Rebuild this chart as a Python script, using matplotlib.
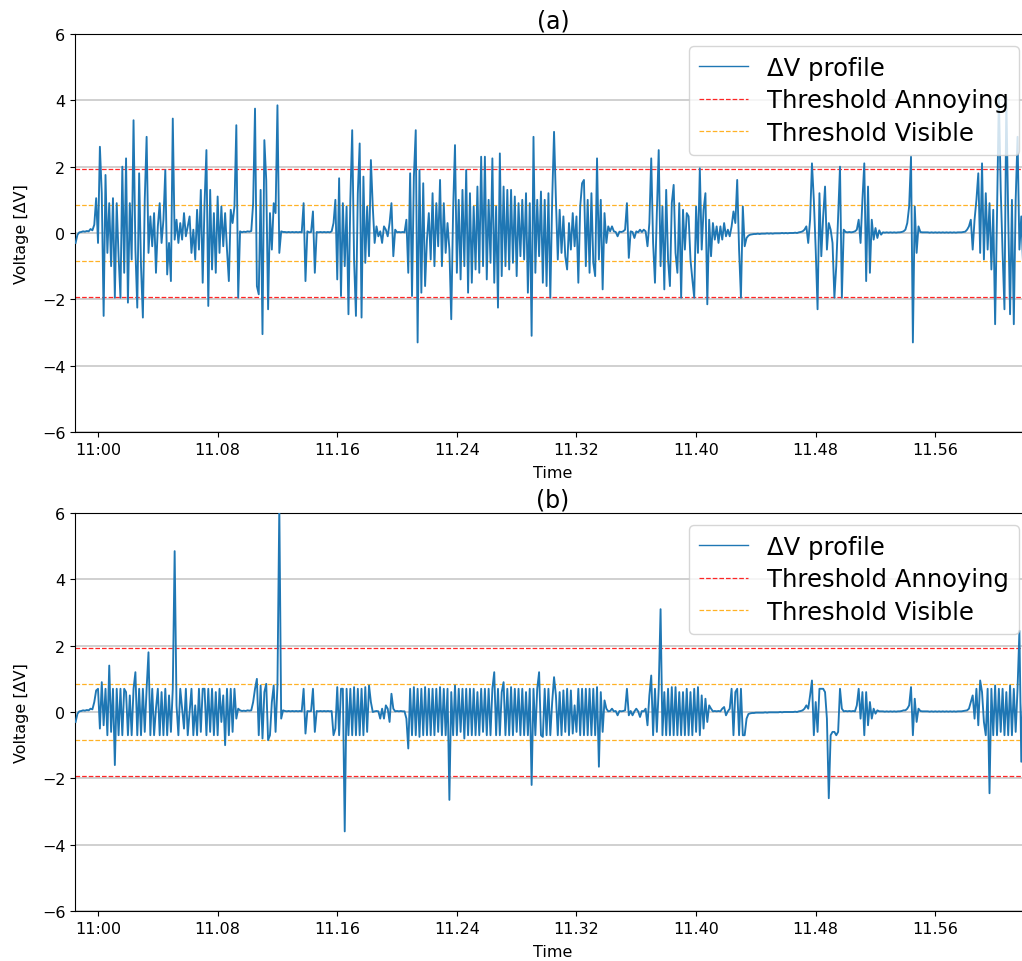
import numpy as np
import matplotlib
matplotlib.use("Agg")
import matplotlib.pyplot as plt

# time axis: minutes after 11:00, one sample every 7.5 s
t_start = -1.5
t_step = 0.125

tick_pos = [0, 8, 16, 24, 32, 40, 48, 56]
tick_labels = ["11:00", "11.08", "11.16", "11.24", "11.32", "11.40", "11.48", "11.56"]

thr_annoying = 1.94
thr_visible = 0.83

# panel (a) ΔV profile (8 samples per row = one minute)
dv_a = [
    -0.3, -0.05, 0.02, 0.03, 0.05, 0.04, 0.06, 0.05,
    0.12, 0.08, 0.25, 1.05, -0.3, 2.6, 1.2, -2.5,
    1.75, -0.6, 0.9, -1.0, 1.05, -1.95, 0.9, -0.7,
    -1.95, 2.0, -1.2, 2.25, -2.1, 0.9, -0.8, 3.4,
    -0.5, -2.25, 1.8, -1.0, -2.55, 1.0, 2.9, -0.6,
    0.5, -0.4, 0.6, -1.2, 0.2, 0.9, -0.3, 0.4,
    1.9, -1.25, -0.3, -1.45, 3.45, -0.2, 0.4, -0.3,
    0.3, -0.2, 0.6, -0.1, 0.2, 0.5, -0.6, 0.1,
    -0.8, 0.7, -0.5, 1.3, -1.5, 0.9, 2.5, -2.2,
    1.3, -1.1, 0.6, -1.2, 1.1, -0.6, 0.8, -0.4,
    0.6, -0.5, -1.45, 0.7, 0.3, 0.8, 3.25, -1.95,
    0.05, 0.02, 0.04, 0.03, 0.05, 0.04, 0.06, 0.9,
    3.75, -1.6, -1.85, 1.3, -3.05, 2.8, 1.6, -2.3,
    0.6, -0.5, 0.9, 0.6, 3.85, -0.6, 0.05, 0.03,
    0.03, 0.02, 0.03, 0.02, 0.03, 0.02, 0.03, 0.02,
    0.03, 0.02, 0.9, -1.45, 0.05, 0.02, 0.03, 0.65,
    -1.2, 0.03, 0.02, 0.03, 0.02, 0.03, 0.02, 0.03,
    0.02, 0.05, 0.3, 1.0, -1.4, 1.65, -1.9, 0.9,
    -1.0, 0.8, -2.45, 1.0, 3.1, -0.8, -2.5, 1.2,
    2.7, -2.55, 1.7, -0.9, 0.8, -0.7, 2.2, 0.8,
    -0.3, 0.2, -0.1, 0.05, -0.3, 0.2, 0.1, -0.1,
    0.3, 0.9, -0.7, 0.1, 0.02, 0.03, 0.02, 0.03,
    0.02, 0.4, -1.2, 1.8, -1.9, 1.7, 3.1, -3.3,
    1.9, -1.8, 1.5, -1.6, -0.2, 0.6, -0.8, 1.2,
    -1.0, 0.9, -0.4, 1.6, -1.0, 0.9, -0.6, 0.3,
    -0.5, -2.6, 0.7, 2.65, -1.2, 1.0, -1.4, 1.3,
    -1.0, 1.9, -1.8, 1.2, -1.5, 0.8, -1.1, 1.4,
    -1.2, 2.3, -1.0, 2.3, -1.4, 1.0, -0.9, 2.25,
    -1.5, 0.8, -2.25, 2.4, -1.3, 1.4, -1.0, 1.3,
    -1.1, 1.3, -0.9, 1.1, -1.3, 0.9, -0.7, 1.0,
    -0.8, 1.2, -1.8, 0.9, -3.1, 2.9, -1.2, 1.0,
    -0.7, 1.25, -1.5, 1.0, -1.6, 1.2, -1.95, 1.0,
    3.05, 1.0, -0.8, 0.7, -0.6, 0.5, -0.7, -1.1,
    0.3, -0.5, 0.6, -0.4, 0.5, -1.5, 0.8, 1.5,
    1.6, -1.0, 1.0, -1.2, 1.2, -0.9, -1.3, 2.25,
    -0.8, 1.0, -1.7, 0.6, -0.3, 0.2, 0.05, 0.2,
    0.05, 0.03, -0.1, 0.04, 0.03, 0.05, 0.1, 0.9,
    -0.75, 0.05, 0.03, -0.15, 0.05, 0.02, 0.1, 0.03,
    0.1, 0.05, -0.4, 0.3, 2.25, -0.3, -1.5, 0.6,
    2.5, -1.0, 0.8, -1.7, 1.3, -0.8, -1.6, 0.9,
    1.45, -0.6, -1.2, 0.9, -1.95, 0.7, -0.5, 0.6,
    0.5, -0.8, -1.4, -1.95, 0.8, -0.6, 1.95, -0.5,
    0.7, 1.2, -2.15, 0.4, -0.7, 0.3, -0.2, 0.2,
    -0.3, 0.2, -0.2, 0.3, -0.1, 0.1, -0.1, 0.2,
    0.65, 0.3, 1.6, -0.5, -1.95, 0.8, -0.4, -0.15,
    -0.08, -0.05, -0.04, -0.03, -0.03, -0.02, -0.03, -0.02,
    -0.02, -0.02, -0.01, -0.02, -0.01, -0.02, -0.01, -0.01,
    -0.01, -0.01, 0.0, -0.01, 0.0, -0.01, 0.0, 0.0,
    0.0, 0.01, 0.0, 0.02, 0.03, 0.05, 0.1, 0.2,
    -0.3, 0.4, 2.1, 1.0, -0.5, -2.3, 1.2, -0.7,
    0.5, 1.4, -0.5, 0.3, 0.1, -0.3, -1.95, -1.0,
    0.5, 2.0, -1.95, 0.1, 0.03, 0.02, 0.03, 0.02,
    0.03, 0.05, 0.1, 0.4, -0.3, 1.0, 2.1, -1.45,
    1.4, -1.2, 0.4, -0.2, 0.15, -0.15, 0.08, -0.05,
    0.02, 0.01, 0.02, 0.01, 0.02, 0.01, 0.02, 0.01,
    0.02, 0.02, 0.03, 0.05, 0.1, 0.3, 0.8, 2.3,
    -3.3, 0.8, -0.6, 0.2, 0.03, 0.02, 0.02, 0.02,
    0.02, 0.01, 0.02, 0.01, 0.02, 0.01, 0.02, 0.01,
    0.02, 0.01, 0.02, 0.01, 0.02, 0.01, 0.02, 0.01,
    0.02, 0.02, 0.02, 0.03, 0.04, 0.1, 0.2, 0.4,
    -0.5, 0.4, 1.0, 1.8, -0.6, 2.1, -0.8, 1.2,
    -0.5, 0.9, -1.1, 0.7, -2.75, 0.5, 4.15, 1.3,
    -0.6, -2.3, 4.1, 0.5, -2.45, 1.0, -2.75, 1.0,
    2.9, -0.5, 0.5, -1.0, 0.4, -0.3, 0.2, 0.1,
]

# panel (b) ΔV profile
dv_b = [
    -0.3, -0.05, 0.02, 0.03, 0.05, 0.04, 0.06, 0.05,
    0.1, 0.08, 0.3, 0.65, 0.7, -0.5, 0.9, -0.4,
    0.7, -0.7, 1.4, -0.6, 0.7, -1.6, 0.7, -0.7,
    0.7, -0.7, 0.7, 0.6, -0.7, 0.5, -0.7, 0.7,
    1.2, -0.7, 0.7, -0.7, 0.7, -0.6, 0.7, 1.8,
    -0.7, 0.7, -0.7, 0.1, 0.7, -0.7, 0.6, -0.7,
    0.7, -0.7, 0.5, -0.6, 0.7, 4.85, 0.2, -0.7,
    0.7, 0.1, -0.5, 0.7, -0.7, 0.0, 0.7, -0.7,
    0.2, -0.7, 0.7, -0.6, 0.7, 0.7, -0.7, 0.7,
    -0.6, 0.7, -0.7, 0.6, -0.7, 0.7, -0.3, 0.5,
    -1.0, 0.7, -0.7, 0.7, -0.6, 0.7, -0.2, 0.1,
    0.05, 0.03, 0.04, 0.03, 0.05, 0.04, 0.05, 0.3,
    0.7, 1.0, -0.7, 0.8, -0.8, 0.6, 0.85, -0.85,
    -0.7, 0.3, 0.8, -0.6, 0.8, 6.2, -0.2, 0.05,
    0.03, 0.02, 0.03, 0.02, 0.03, 0.02, 0.03, 0.02,
    0.03, 0.02, 0.7, -0.65, 0.03, 0.02, 0.03, 0.7,
    -0.6, 0.03, 0.02, 0.03, 0.02, 0.03, 0.02, 0.03,
    0.02, 0.03, -0.7, -0.5, 0.75, -0.7, 0.7, 0.7,
    -3.6, 0.7, -0.7, 0.7, -0.7, 0.75, -0.7, 0.7,
    -0.7, 0.7, -0.7, 0.75, -0.6, 0.8, 0.3, 0.0,
    0.02, 0.03, 0.02, -0.2, 0.1, -0.2, 0.2, 0.1,
    -0.3, 0.55, 0.1, 0.02, 0.03, 0.02, 0.03, 0.02,
    0.02, -0.2, -1.1, 0.7, -0.7, 0.75, -0.7, 0.7,
    -0.75, 0.7, -0.7, 0.75, -0.7, 0.7, -0.7, 0.7,
    -0.7, 0.7, -0.6, 0.75, -0.7, 0.7, -0.7, 0.7,
    -2.65, 0.6, -0.7, 0.8, -0.7, 0.7, -0.6, 0.7,
    -0.8, 0.7, -0.7, 0.7, -0.7, 0.7, -0.7, 0.6,
    -0.7, 0.7, -0.6, 0.7, -0.7, 0.7, -0.7, 0.7,
    1.2, -0.7, 0.7, -0.7, 0.6, 0.9, -0.7, 0.7,
    -0.7, 0.75, -0.7, 0.7, -0.6, 0.7, -0.7, 0.7,
    -0.7, 0.6, -0.7, 0.7, -2.2, 0.7, -0.7, 0.7,
    1.2, -0.7, -0.75, 0.7, -0.7, 0.7, -0.7, 0.3,
    1.05, 0.5, -0.7, 0.6, -0.7, 0.65, -0.6, 0.7,
    -0.7, 0.65, -0.65, 0.2, -0.6, 0.7, -0.7, 0.7,
    -0.7, 0.7, -0.7, 0.7, -0.7, 0.7, -0.7, 0.75,
    -1.65, 0.6, -0.6, 0.35, 0.1, 0.02, 0.03, 0.1,
    0.02, 0.03, -0.1, 0.03, 0.02, 0.03, 0.05, 0.7,
    -0.1, 0.03, -0.1, 0.02, 0.1, 0.02, -0.15, 0.03,
    0.02, 0.1, -0.4, 0.5, 1.1, -0.7, 0.7, -0.6,
    0.7, 3.1, -0.7, 0.6, -0.7, 0.7, -0.7, 0.75,
    -0.7, 0.75, -0.7, 0.6, -0.7, 0.6, -0.7, 0.7,
    -0.7, 0.6, -0.7, 0.7, -0.6, 0.75, -0.7, 0.5,
    -0.5, 0.4, -0.3, 0.2, 0.1, 0.02, 0.03, 0.02,
    0.03, 0.02, 0.1, 0.15, -0.1, 0.02, 0.1, 0.7,
    -0.7, 0.6, 0.7, -0.7, 0.7, -0.7, -0.7, -0.2,
    -0.06, -0.04, -0.03, -0.03, -0.02, -0.02, -0.02, -0.02,
    -0.02, -0.01, -0.02, -0.01, -0.01, -0.01, -0.01, -0.01,
    -0.01, 0.0, -0.01, 0.0, 0.0, 0.0, 0.0, 0.0,
    0.0, 0.01, 0.0, 0.02, 0.03, 0.05, 0.1, 0.2,
    0.1, 0.5, 0.95, -0.7, 0.3, -0.6, 0.7, 0.7,
    0.7, 0.6, -0.2, -2.6, -0.7, -0.6, -0.6, -0.7,
    -0.6, 0.7, 0.1, 0.02, 0.03, 0.02, 0.03, 0.02,
    0.03, 0.02, 0.2, 0.7, -0.2, 0.6, -0.7, 0.6,
    -0.4, 0.3, -0.2, 0.1, -0.05, 0.05, 0.02, 0.02,
    0.02, 0.01, 0.02, 0.01, 0.02, 0.01, 0.02, 0.01,
    0.02, 0.02, 0.03, 0.05, 0.05, 0.1, 0.2, 0.75,
    -0.7, 0.4, -0.3, 0.1, 0.03, 0.02, 0.02, 0.02,
    0.02, 0.01, 0.02, 0.01, 0.02, 0.01, 0.02, 0.01,
    0.02, 0.01, 0.02, 0.01, 0.02, 0.01, 0.02, 0.01,
    0.02, 0.02, 0.02, 0.03, 0.04, 0.05, 0.1, 0.3,
    0.5, -0.2, 0.7, -0.4, 0.95, 0.6, -0.3, -0.7,
    0.7, -2.45, 0.7, -0.7, 0.8, -0.7, 0.7, -0.6,
    0.7, -0.7, 0.6, -0.7, 0.8, -0.7, 0.7, -0.6,
    0.7, 2.45, -1.5, 0.5, -0.3, 0.2, 0.1, 0.0,
]

plt.rcParams["font.family"] = ["DejaVu Sans"]

fig = plt.figure(figsize=(10.22, 9.62), dpi=100)
W, H = 1022.0, 962.0
ax_left, ax_right = 75, 1031
boxes = [(35, 433), (514, 912)]
titles = ["(a)", "(b)"]
series = [dv_a, dv_b]

for (top, bot), title, vals in zip(boxes, titles, series):
    ax = fig.add_axes([ax_left / W, 1 - bot / H, (ax_right - ax_left) / W, (bot - top) / H])
    vals = np.asarray(vals)
    t = t_start + t_step * np.arange(len(vals))
    ax.plot(t, vals, color="#1f77b4", lw=1.35, label="ΔV profile", zorder=3)
    ax.axhline(thr_annoying, color="red", ls="--", lw=0.9, alpha=0.85,
               label="Threshold Annoying", zorder=2)
    ax.axhline(-thr_annoying, color="red", ls="--", lw=0.9, alpha=0.85, zorder=2)
    ax.axhline(thr_visible, color="orange", ls="--", lw=0.9, alpha=0.85,
               label="Threshold Visible", zorder=2)
    ax.axhline(-thr_visible, color="orange", ls="--", lw=0.9, alpha=0.85, zorder=2)
    ax.set_ylim(-6, 6)
    ax.set_xlim(-1.54, 62.4)
    ax.set_yticks([-6, -4, -2, 0, 2, 4, 6])
    ax.set_xticks(tick_pos)
    ax.set_xticklabels(tick_labels)
    ax.tick_params(labelsize=11.5)
    ax.yaxis.grid(True, color="#c8c8c8", lw=1.2, zorder=0)
    ax.xaxis.grid(False)
    ax.set_axisbelow(True)
    ax.set_title(title, fontsize=17, pad=5)
    ax.set_ylabel("Voltage [ΔV]", fontsize=11.5, labelpad=9)
    ax.set_xlabel("Time", fontsize=11.5, labelpad=6)
    leg = ax.legend(loc="upper right", fontsize=17.5, borderaxespad=0.5,
                    labelspacing=0.35)
    leg.get_lines()[0].set_linewidth(1.0)

fig.savefig("out.png", dpi=100)
